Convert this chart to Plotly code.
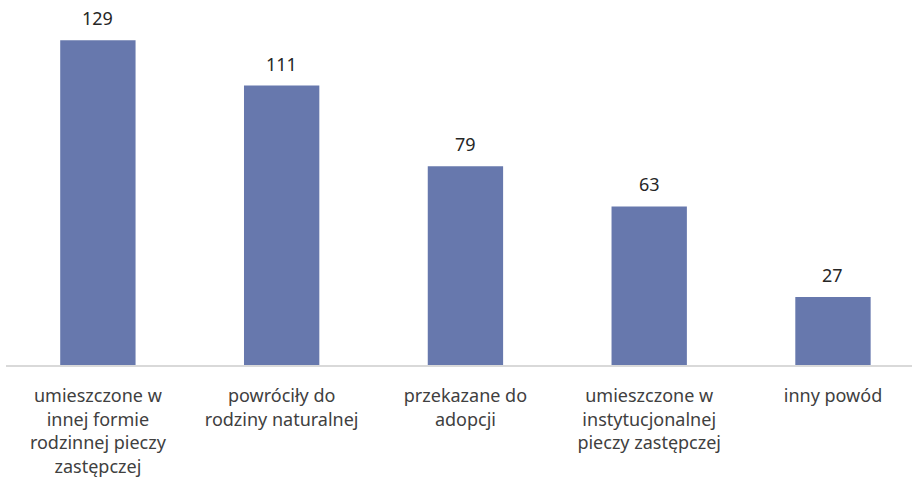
import plotly.graph_objects as go

categories = [
    "umieszczone w<br>innej formie<br>rodzinnej pieczy<br>zastępczej",
    "powróciły do<br>rodziny naturalnej",
    "przekazane do<br>adopcji",
    "umieszczone w<br>instytucjonalnej<br>pieczy zastępczej",
    "inny powód",
]
values = [129, 111, 79, 63, 27]

BAR_COLOR = "#6778AD"
TEXT_COLOR = "#262626"
FONT = "Noto Sans"

fig = go.Figure()
fig.add_trace(go.Bar(
    x=list(range(len(categories))),
    y=values,
    width=0.41,
    marker=dict(color=BAR_COLOR, line=dict(width=0)),
    hoverinfo="skip",
))

for i, v in enumerate(values):
    fig.add_annotation(
        x=i, y=v, text=str(v), showarrow=False,
        yanchor="bottom", yshift=8,
        font=dict(family=FONT, size=18, color=TEXT_COLOR),
    )

fig.update_layout(
    width=912, height=477,
    margin=dict(l=6, r=0, t=0, b=112),
    paper_bgcolor="white",
    plot_bgcolor="white",
    showlegend=False,
    font=dict(family=FONT, size=18, color="#404040"),
    xaxis=dict(
        range=[-0.5, 4.43],
        tickmode="array",
        tickvals=list(range(len(categories))),
        ticktext=categories,
        showgrid=False,
        zeroline=False,
        showline=True,
        linecolor="#D9D9D9",
        linewidth=1.5,
        ticks="outside",
        ticklen=14,
        tickcolor="rgba(0,0,0,0)",
        tickfont=dict(family=FONT, size=18, color="#404040"),
        automargin=False,
        fixedrange=True,
    ),
    yaxis=dict(
        range=[0, 145],
        visible=False,
        showgrid=False,
        zeroline=False,
        fixedrange=True,
    ),
)

fig.write_html(
    "out.html",
    config={"displayModeBar": False},
    post_script="document.body.style.margin='0px';",
)
